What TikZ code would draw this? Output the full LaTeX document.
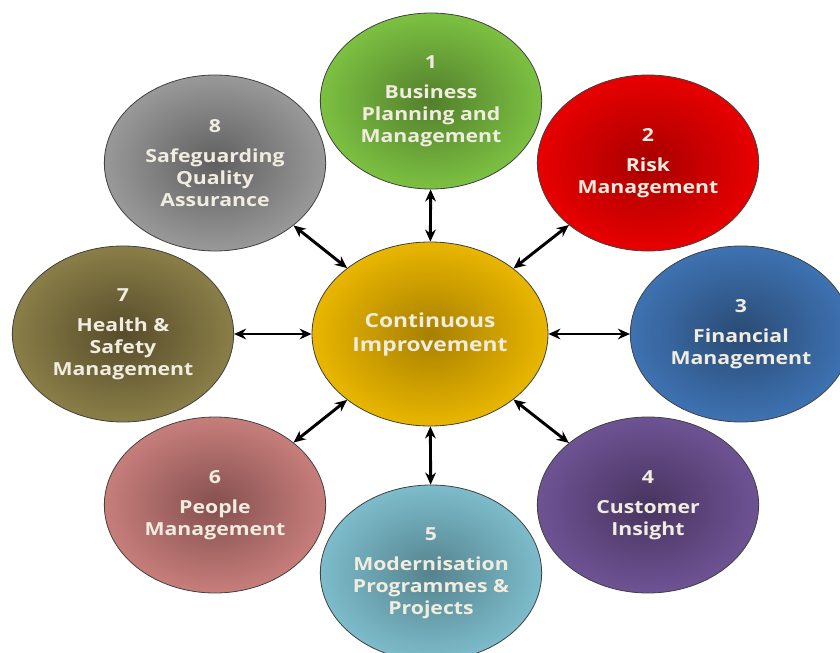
\documentclass[tikz,border=0pt]{standalone}
\usepackage{fontspec}
\newfontfamily\bubblefont[FakeStretch=1.18]{Open Sans}
\usepackage{tikz}
\usetikzlibrary{shapes.geometric}
\usetikzlibrary{arrows.meta}

\definecolor{labeltext}{HTML}{F0ECDF}
\definecolor{goldedge}{HTML}{E9B600}
\definecolor{goldmid}{HTML}{A88000}
\definecolor{greenedge}{HTML}{7CC142}
\definecolor{greenmid}{HTML}{537F2C}
\definecolor{rededge}{HTML}{E80000}
\definecolor{redmid}{HTML}{A80000}
\definecolor{blueedge}{HTML}{3E72B2}
\definecolor{bluemid}{HTML}{2A4B74}
\definecolor{purpleedge}{HTML}{6E5394}
\definecolor{purplemid}{HTML}{48345F}
\definecolor{tealedge}{HTML}{7DBCCB}
\definecolor{tealmid}{HTML}{55838E}
\definecolor{pinkedge}{HTML}{C77E7B}
\definecolor{pinkmid}{HTML}{84504F}
\definecolor{oliveedge}{HTML}{8A7E48}
\definecolor{olivemid}{HTML}{564C2A}
\definecolor{grayedge}{HTML}{999999}
\definecolor{graymid}{HTML}{5F5F5F}

\begin{document}
\begin{tikzpicture}[x=0.75pt, y=-0.75pt,
        bubble/.style={ellipse, draw=black!75, line width=0.6pt, inner sep=0pt,
            minimum width=166pt, minimum height=132pt, align=center, text=labeltext,
            font=\bubblefont\bfseries\fontsize{13.5}{16.5}\selectfont},
        link/.style={{Stealth[length=9pt,width=8pt]}-{Stealth[length=9pt,width=8pt]},
            line width=2.2pt, black}]

    \clip (0,0) rectangle (840,653);

    % draw centre bubble
    \node[bubble, minimum width=177pt, minimum height=138pt, inner color=goldmid, outer color=goldedge,
        font=\bubblefont\bfseries\fontsize{14.5}{18}\selectfont] (centre) at (430,334) {Continuous\\Improvement};

    % draw outer bubbles, clockwise from the top
    \node[bubble, inner color=greenmid, outer color=greenedge] (b1) at (431,101)
        {1\\[6pt]Business\\Planning and\\Management};
    \node[bubble, inner color=redmid, outer color=rededge] (b2) at (648,163)
        {2\\[6pt]Risk\\Management};
    \node[bubble, inner color=bluemid, outer color=blueedge] (b3) at (741,334)
        {3\\[6pt]Financial\\Management};
    \node[bubble, inner color=purplemid, outer color=purpleedge] (b4) at (648,505)
        {4\\[6pt]Customer\\Insight};
    \node[bubble, inner color=tealmid, outer color=tealedge] (b5) at (431,573)
        {5\\[6pt]Modernisation\\Programmes \&\\Projects};
    \node[bubble, inner color=pinkmid, outer color=pinkedge] (b6) at (215,505)
        {6\\[6pt]People\\Management};
    \node[bubble, inner color=olivemid, outer color=oliveedge] (b7) at (123,334)
        {7\\[6pt]Health \&\\Safety\\Management};
    \node[bubble, inner color=graymid, outer color=grayedge] (b8) at (215,163)
        {8\\[6pt]Safeguarding\\Quality\\Assurance};

    % draw double arrows from the centre
    \draw[link] (centre) -- (b1);
    \draw[link] (centre) -- (b2);
    \draw[link] (centre) -- (b3);
    \draw[link] (centre) -- (b4);
    \draw[link] (centre) -- (b5);
    \draw[link] (centre) -- (b6);
    \draw[link] (centre) -- (b7);
    \draw[link] (centre) -- (b8);
\end{tikzpicture}
\end{document}
